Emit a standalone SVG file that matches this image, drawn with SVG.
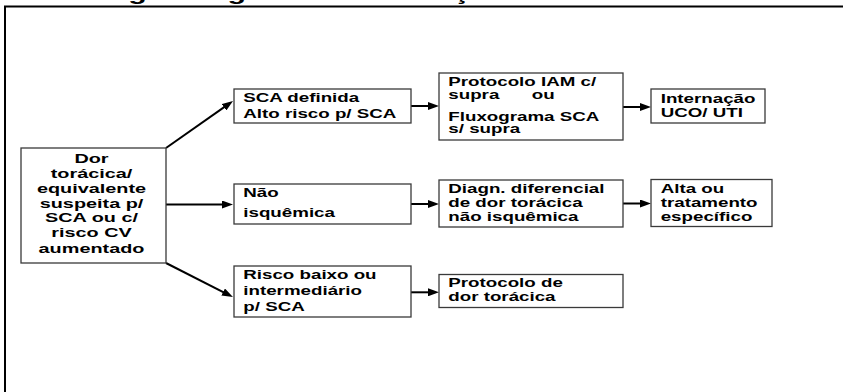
<svg xmlns="http://www.w3.org/2000/svg" width="843" height="392" viewBox="0 0 843 392">
<defs>
<style>
.box{fill:#fff;stroke:#3a3a3a;stroke-width:1.3}
.t{font-family:"Liberation Sans",Arial,sans-serif;font-weight:bold;font-size:12.5px;fill:#000}
.ta{font-family:"Liberation Sans",Arial,sans-serif;font-weight:bold;font-size:13.5px;fill:#000;text-anchor:middle}
.title{font-family:"Liberation Sans",Arial,sans-serif;font-weight:bold;font-size:21px;fill:#000}
.c{fill:none;stroke:#000;stroke-width:2}
</style>
<marker id="arr" viewBox="0 0 11 8" refX="5" refY="4" markerWidth="11" markerHeight="8" markerUnits="userSpaceOnUse" orient="auto">
<path d="M0,0 L11,4 L0,8 z" fill="#000"/>
</marker>
</defs>
<rect width="843" height="392" fill="#fff"/>
<text class="title" transform="translate(47.5,0.4) scale(1.443,1)">Fluxograma geral de orientação de dor torácica</text>
<rect x="5" y="6.5" width="900" height="500" fill="none" stroke="#000" stroke-width="2"/>
<g id="connectors">
<path class="c" marker-end="url(#arr)" d="M166,148 L228.1,104.4"/>
<path class="c" marker-end="url(#arr)" d="M166,204.5 L227,204.5"/>
<path class="c" marker-end="url(#arr)" d="M166,263 L227.6,294.3"/>
<path class="c" marker-end="url(#arr)" d="M411,106 L433,106"/>
<path class="c" marker-end="url(#arr)" d="M623,107 L645,107"/>
<path class="c" marker-end="url(#arr)" d="M411,204 L433,204"/>
<path class="c" marker-end="url(#arr)" d="M623,203.5 L645,203.5"/>
<path class="c" marker-end="url(#arr)" d="M411,292.3 L433,292.3"/>
</g>
<g id="n-dor">
<rect class="box" x="21" y="148" width="145" height="115"/>
<text class="ta" transform="translate(91.5,0) scale(1.47,1)"><tspan x="0" y="163">Dor</tspan><tspan x="0" y="178">torácica/</tspan><tspan x="0" y="193">equivalente</tspan><tspan x="0" y="208">suspeita p/</tspan><tspan x="0" y="222.5">SCA ou c/</tspan><tspan x="0" y="237.5">risco CV</tspan><tspan x="0" y="253">aumentado</tspan></text>
</g>
<g id="n-sca">
<rect class="box" x="234" y="89" width="177" height="34"/>
<text class="t" transform="translate(243.3,0) scale(1.5,1)"><tspan x="0" y="101.7">SCA definida</tspan><tspan x="0" y="117.7">Alto risco p/ SCA</tspan></text>
</g>
<g id="n-protocolo-iam">
<rect class="box" x="439" y="73" width="184" height="67"/>
<text class="t" transform="translate(448.3,0) scale(1.5,1)"><tspan x="0" y="86">Protocolo IAM c/</tspan><tspan x="0" y="99.3">supra</tspan><tspan x="55.6" y="99.3">ou</tspan><tspan x="0" y="121">Fluxograma SCA</tspan><tspan x="0" y="133.3">s/ supra</tspan></text>
</g>
<g id="n-internacao">
<rect class="box" x="651" y="89" width="114" height="34"/>
<text class="t" transform="translate(660.7,0) scale(1.5,1)"><tspan x="0" y="103.3">Internação</tspan><tspan x="0" y="116.7">UCO/ UTI</tspan></text>
</g>
<g id="n-nao-isquemica">
<rect class="box" x="234" y="184" width="177" height="40"/>
<text class="t" transform="translate(243.3,0) scale(1.5,1)"><tspan x="0" y="197.3">Não</tspan><tspan x="0" y="217.3">isquêmica</tspan></text>
</g>
<g id="n-diagn">
<rect class="box" x="439" y="180" width="184" height="47"/>
<text class="t" transform="translate(448.3,0) scale(1.5,1)"><tspan x="0" y="192.7">Diagn. diferencial</tspan><tspan x="0" y="206.7">de dor torácica</tspan><tspan x="0" y="220.7">não isquêmica</tspan></text>
</g>
<g id="n-alta">
<rect class="box" x="651" y="179.5" width="121" height="47"/>
<text class="t" transform="translate(660.7,0) scale(1.5,1)"><tspan x="0" y="193.3">Alta ou</tspan><tspan x="0" y="206.7">tratamento</tspan><tspan x="0" y="220.7">específico</tspan></text>
</g>
<g id="n-risco-baixo">
<rect class="box" x="234" y="266" width="177" height="51"/>
<text class="t" transform="translate(243.3,0) scale(1.5,1)"><tspan x="0" y="279.3">Risco baixo ou</tspan><tspan x="0" y="295">intermediário</tspan><tspan x="0" y="310.7">p/ SCA</tspan></text>
</g>
<g id="n-protocolo-dor">
<rect class="box" x="439" y="274.5" width="184" height="33"/>
<text class="t" transform="translate(448.3,0) scale(1.5,1)"><tspan x="0" y="286.7">Protocolo de</tspan><tspan x="0" y="300.7">dor torácica</tspan></text>
</g>
</svg>
